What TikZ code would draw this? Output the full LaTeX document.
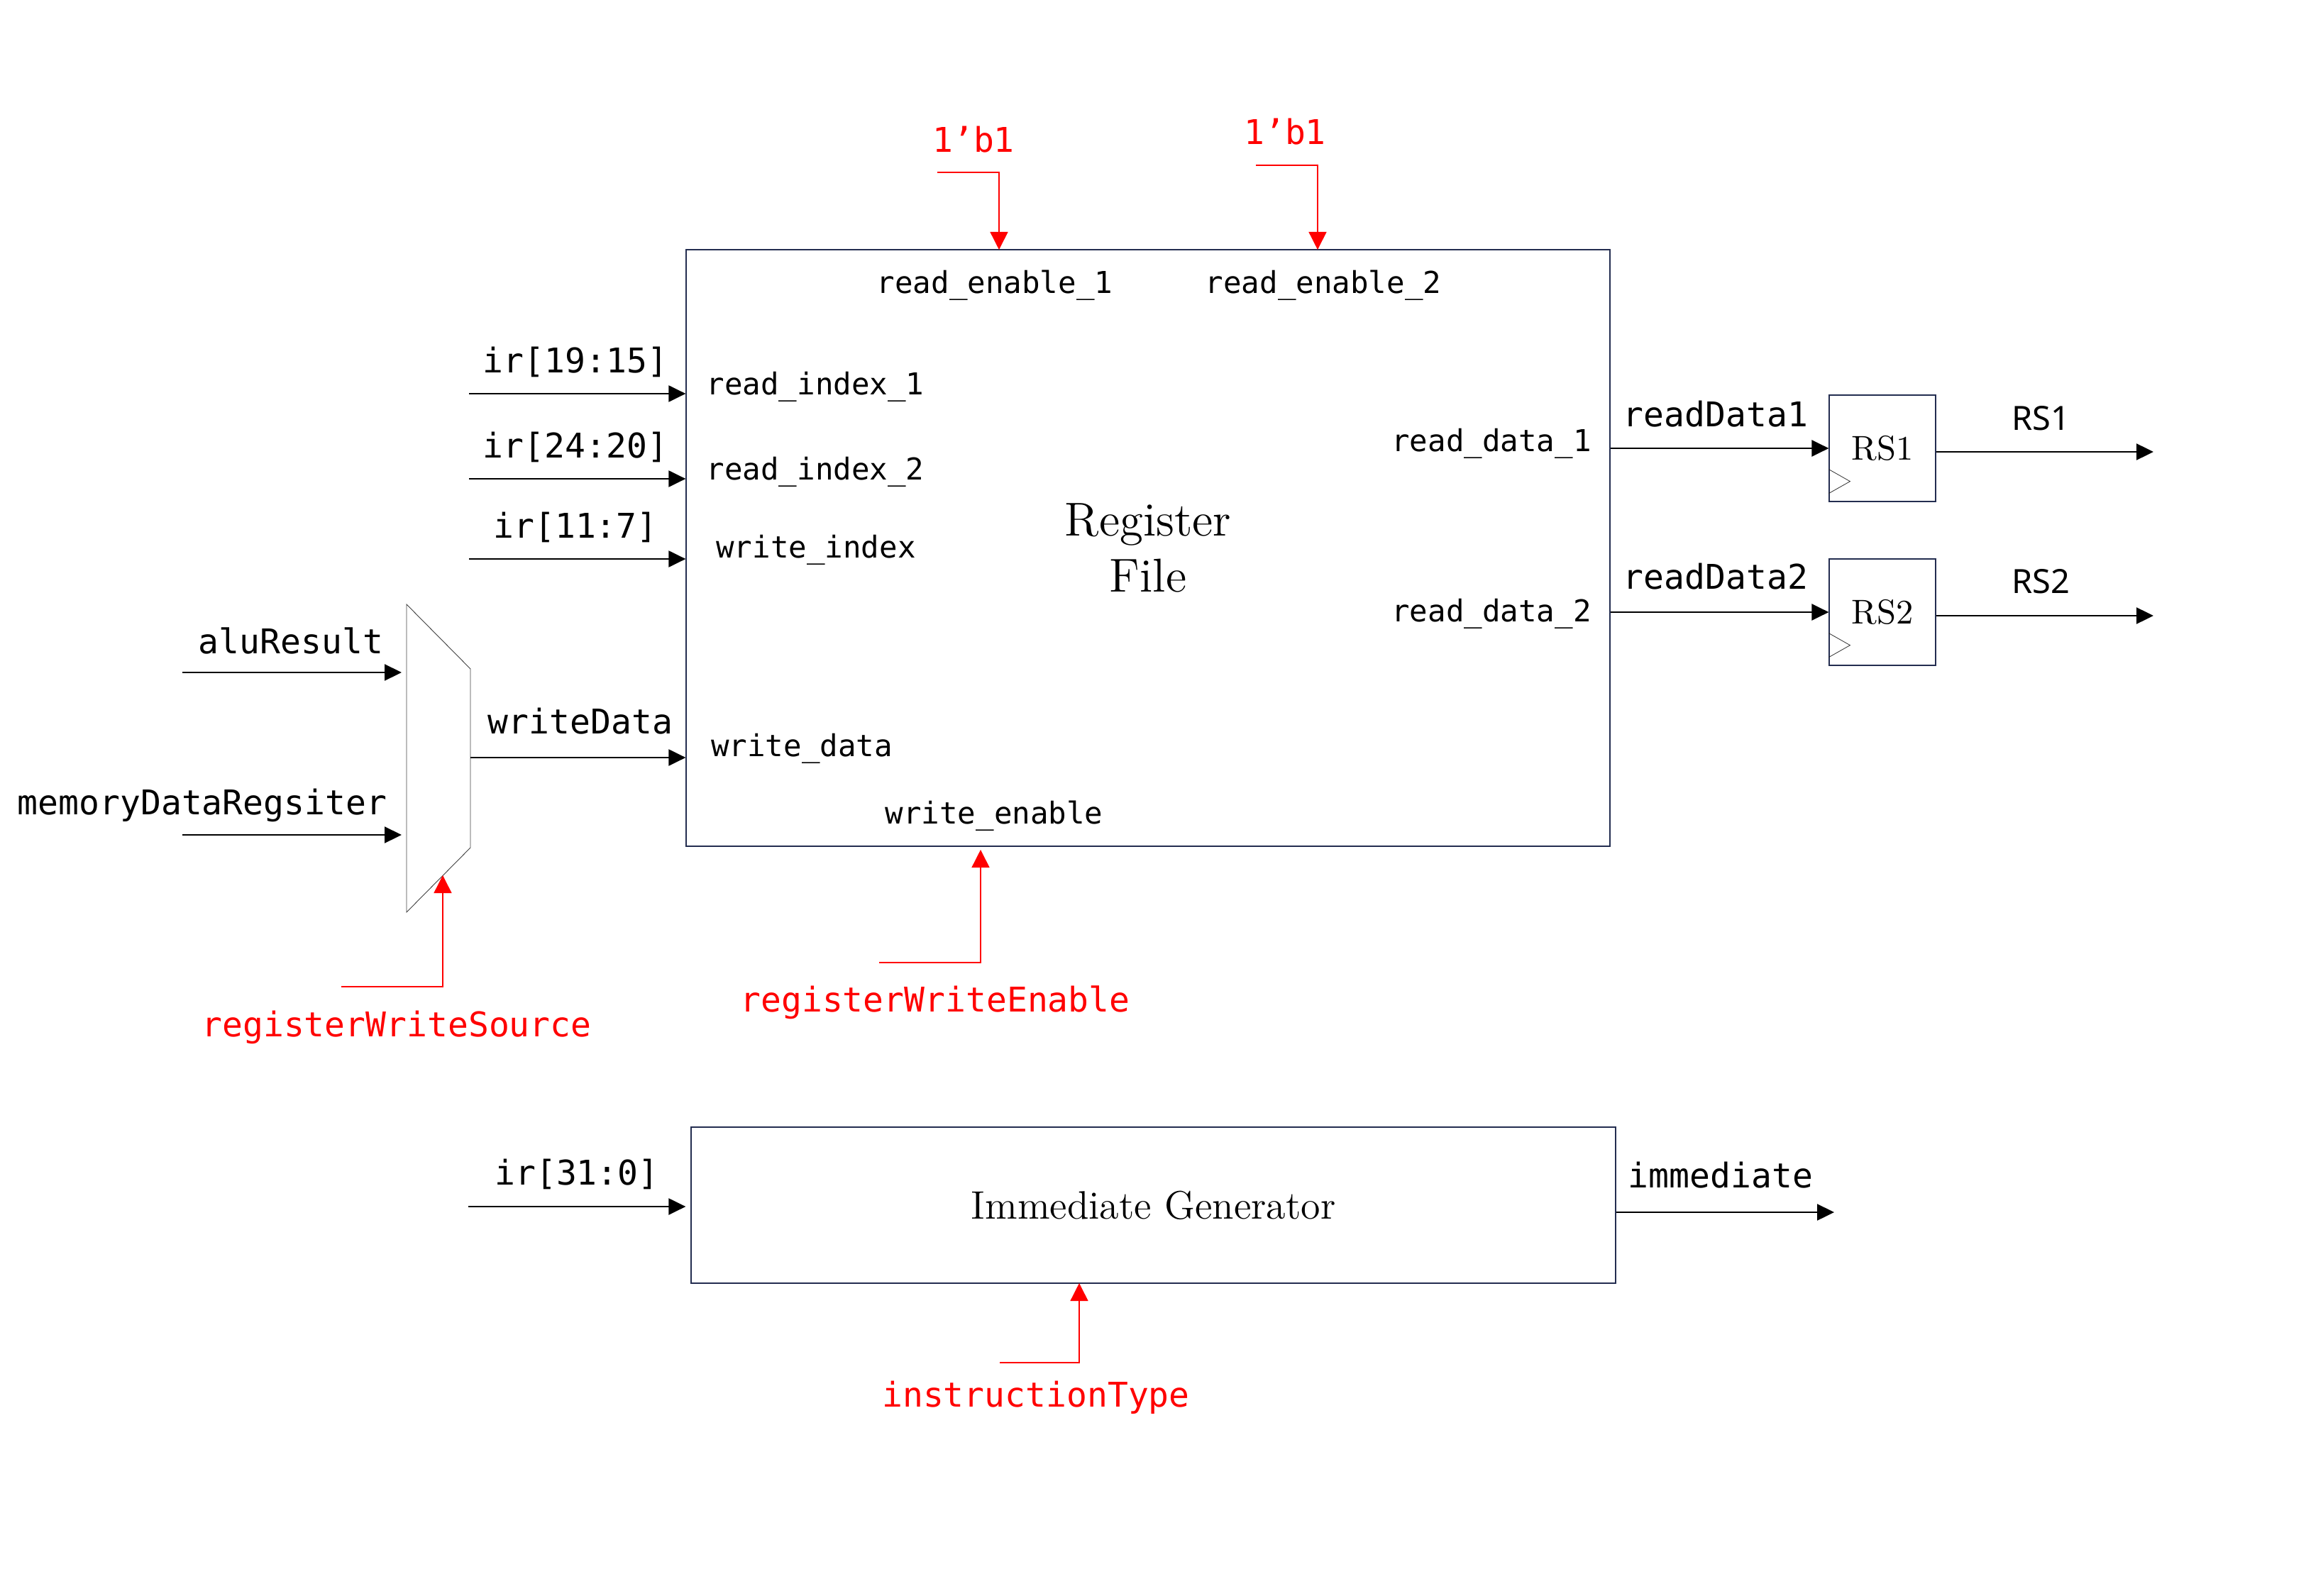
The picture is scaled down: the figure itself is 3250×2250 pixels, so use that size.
\documentclass[tikz,border=0pt]{standalone}
\usepackage{fontspec}
\setmonofont{DejaVu Sans Mono}
\newfontfamily\lblsans{Noto Sans}
\usetikzlibrary{arrows.meta}
\definecolor{boxline}{RGB}{35,45,80}

\begin{document}
\begin{tikzpicture}[x=0.2pt,y=0.2pt,yscale=-1,xscale=1,
  wire/.style={line width=0.45pt,-{Triangle[length=4.8pt,width=4.6pt]}},
  ctrl/.style={red,line width=0.3pt,-{Triangle[length=5pt,width=5pt]}},
  block/.style={draw=boxline,line width=0.25pt,inner sep=0pt},
  sig/.style={inner sep=0.75pt,font=\ttfamily\fontsize{9.6}{11.5}\selectfont},
  ctrltext/.style={sig,text=red},
  port/.style={inner sep=0.75pt,font=\ttfamily\fontsize{8.5}{10}\selectfont}]
\useasboundingbox (0,0) rectangle (3250,2250);

% Blocks
\node [block,minimum width=260.4pt,minimum height=168.2pt,align=center,font=\fontsize{13.4}{15.8}\selectfont] (rf) at (1618,772.5) {Register\\File};
\node [block,minimum width=260.6pt,minimum height=44pt,font=\fontsize{11.2}{13}\selectfont] (imm) at (1625.5,1699) {Immediate Generator};
\node [block,minimum width=30pt,minimum height=30pt,font=\fontsize{9.7}{11}\selectfont] (rs1) at (2653,632) {RS1};
\node [block,minimum width=30pt,minimum height=30pt,font=\fontsize{9.7}{11}\selectfont] (rs2) at (2653,863) {RS2};
\draw [black!85,line width=0.15pt] (rs1.south west) ++(0,-12) -- ++(30,-17) -- ++(-30,-17) ;
\draw [black!85,line width=0.15pt] (rs2.south west) ++(0,-12) -- ++(30,-17) -- ++(-30,-17) ;
% Mux
\draw [black!75,line width=0.18pt] (573,852) -- (663,943) -- (663,1195) -- (573,1286) -- cycle ;
\coordinate (muxOut) at (663,1068);

% Register file ports
\draw (1402,402) node [port] (reA) {read\_enable\_1};
\draw (1865,402) node [port] (reB) {read\_enable\_2};
\draw (1149,545) node [port] (riA) {read\_index\_1};
\draw (1149,665) node [port] (riB) {read\_index\_2};
\draw (1150,775) node [port] (wi) {write\_index};
\draw (1130,1055) node [port] (wdp) {write\_data};
\draw (1401,1150) node [port] (we) {write\_enable};
\draw (2102,625) node [port] (rdA) {read\_data\_1};
\draw (2102,865) node [port] (rdB) {read\_data\_2};

% Inputs
\coordinate (irAin) at (661,555);
\coordinate (irBin) at (661,675);
\coordinate (irCin) at (661,788);
\coordinate (irImmIn) at (660,1701);
\coordinate (aluIn) at (257,948);
\coordinate (aluEnd) at (566,948);
\coordinate (mdrIn) at (257,1177);
\coordinate (mdrEnd) at (566,1177);
\draw [wire] (irAin) -- (irAin -| rf.west) ;
\draw [wire] (irBin) -- (irBin -| rf.west) ;
\draw [wire] (irCin) -- (irCin -| rf.west) ;
\draw [wire] (muxOut) -- (muxOut -| rf.west) ;
\draw [wire] (aluIn) -- (aluEnd) ;
\draw [wire] (mdrIn) -- (mdrEnd) ;
\draw [wire,shorten >=1.4pt] (irImmIn) -- (irImmIn -| imm.west) ;
% Text Node
\draw (811,510) node [sig] (irA) {ir[19:15]};
% Text Node
\draw (811,630) node [sig] (irB) {ir[24:20]};
% Text Node
\draw (811,743) node [sig] (irC) {ir[11:7]};
% Text Node
\draw (410,903) node [sig] (alu) {aluResult};
% Text Node
\draw (285,1135) node [sig] (mdr) {memoryDataRegsiter};
% Text Node
\draw (818,1017) node [sig] (wd) {writeData};
% Text Node
\draw (813,1655) node [sig] (irImm) {ir[31:0]};

% Outputs
\coordinate (rsAout) at (3035,637);
\coordinate (rsBout) at (3035,868);
\coordinate (immOut) at (2585,1709);
\draw [wire] (rf.east |- rs1.west) -- (rs1.west) ;
\draw [wire] (rf.east |- rs2.west) -- (rs2.west) ;
\draw [wire] (rs1.east |- rsAout) -- (rsAout) ;
\draw [wire] (rs2.east |- rsBout) -- (rsBout) ;
\draw [wire] (imm.east |- immOut) -- (immOut) ;
% Text Node
\draw (2418,584) node [sig] (rdAlbl) {readData1};
% Text Node
\draw (2418,813) node [sig] (rdBlbl) {readData2};
% Text Node
\draw (2876,590) node [inner sep=0.75pt,font=\lblsans\fontsize{9.4}{11}\selectfont] (rsAlbl) {RS1};
% Text Node
\draw (2876,820) node [inner sep=0.75pt,font=\lblsans\fontsize{9.4}{11}\selectfont] (rsBlbl) {RS2};
% Text Node
\draw (2425,1657) node [sig] (immLbl) {immediate};

% Control signals
\coordinate (oneAin) at (1321,243);
\coordinate (oneAtip) at (1408,352);
\coordinate (oneBin) at (1770,233);
\coordinate (oneBtip) at (1857,352);
\coordinate (rweIn) at (1239,1357);
\coordinate (rweTip) at (1382,1198);
\coordinate (rwsIn) at (481,1391);
\coordinate (rwsTip) at (624,1234);
\coordinate (itIn) at (1409,1921);
\coordinate (itTip) at (1521,1809);
\draw [ctrl] (oneAin) -| (oneAtip) ;
\draw [ctrl] (oneBin) -| (oneBtip) ;
\draw [ctrl] (rweIn) -| (rweTip) ;
\draw [ctrl] (rwsIn) -| (rwsTip) ;
\draw [ctrl] (itIn) -| (itTip) ;
% Text Node
\draw (1372,197) node [ctrltext] (oneA) {1’b1};
% Text Node
\draw (1811,186) node [ctrltext] (oneB) {1’b1};
% Text Node
\draw (1318,1413) node [ctrltext] (rwe) {registerWriteEnable};
% Text Node
\draw (559,1448) node [ctrltext] (rws) {registerWriteSource};
% Text Node
\draw (1460,1970) node [ctrltext] (itype) {instructionType};
\end{tikzpicture}
\end{document}
